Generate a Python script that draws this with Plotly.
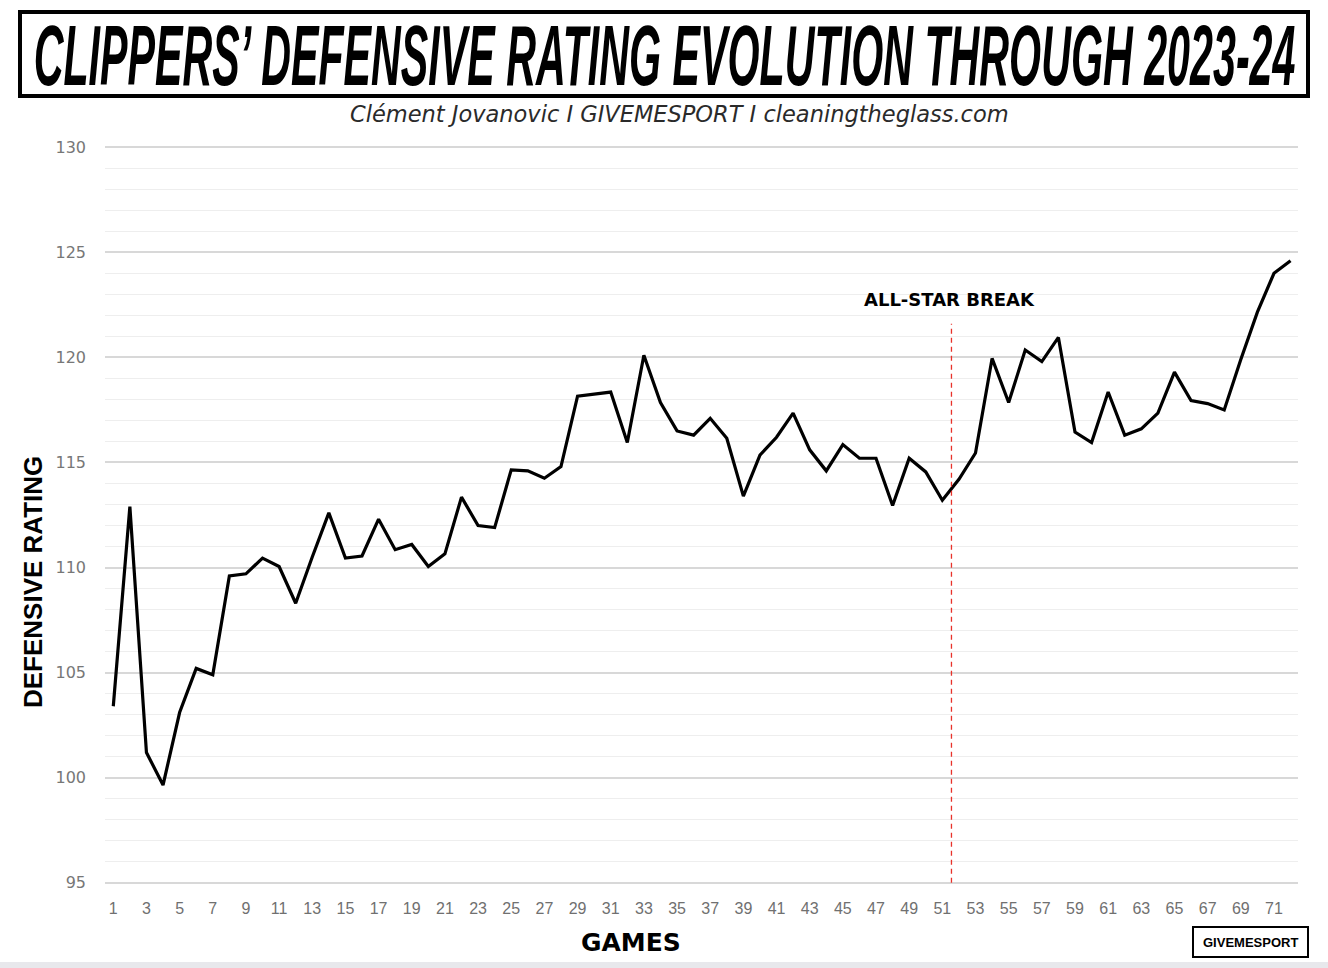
import plotly.graph_objects as go

W, H = 1328, 968
ML, MR, MT, MB = 105, 30, 143, 81

games = list(range(1, 73))
def_rating = [
    103.4, 112.9, 101.2, 99.65, 103.1, 105.2, 104.9, 109.6, 109.7, 110.45,
    110.05, 108.3, 110.5, 112.6, 110.45, 110.55, 112.3, 110.85, 111.1, 110.05,
    110.65, 113.35, 112.0, 111.9, 114.65, 114.6, 114.25, 114.8, 118.15, 118.25,
    118.35, 115.95, 120.1, 117.85, 116.5, 116.3, 117.1, 116.15, 113.4, 115.35,
    116.2, 117.35, 115.6, 114.6, 115.85, 115.2, 115.2, 112.95, 115.2, 114.55,
    113.2, 114.2, 115.45, 119.95, 117.85, 120.35, 119.8, 120.95, 116.45, 115.95,
    118.35, 116.3, 116.6, 117.35, 119.3, 117.95, 117.8, 117.5, 119.9, 122.15,
    124.0, 124.6,
]
x_ticks = list(range(1, 72, 2))
y_ticks = [95, 100, 105, 110, 115, 120, 125, 130]
all_star_game = 51.55
all_star_top = 121.6

title = "CLIPPERS’ DEFENSIVE RATING EVOLUTION THROUGH 2023-24"
subtitle = "Clément Jovanovic I GIVEMESPORT I cleaningtheglass.com"


def px(x):
    # pixel -> paper x
    return (x - ML) / (W - ML - MR)


def py(y):
    # pixel -> paper y
    return (H - MB - y) / (H - MT - MB)


fig = go.Figure()

fig.add_trace(
    go.Scatter(
        x=games,
        y=def_rating,
        mode="lines",
        line=dict(color="black", width=3.2),
        showlegend=False,
    )
)

# all-star break marker
fig.add_shape(
    type="line", xref="x", yref="y",
    x0=all_star_game, x1=all_star_game, y0=95, y1=all_star_top,
    line=dict(color="#e8322a", width=1.3, dash="5px,4px"),
)

# title box
fig.add_shape(
    type="rect", xref="paper", yref="paper",
    x0=px(20), x1=px(1308), y0=py(96), y1=py(12),
    line=dict(color="black", width=4), fillcolor="white",
)
# logo box
fig.add_shape(
    type="rect", xref="paper", yref="paper",
    x0=px(1193), x1=px(1308), y0=py(957), y1=py(927),
    line=dict(color="black", width=2), fillcolor="white",
)
# bottom strip
fig.add_shape(
    type="rect", xref="paper", yref="paper",
    x0=px(0), x1=px(W), y0=py(H), y1=py(962),
    line=dict(width=0), fillcolor="#e8e8ec",
)

annos = [
    dict(text="<b><i>" + title + "</i></b>", x=px(664), y=py(54),
         font=dict(family="Liberation Sans Narrow, Liberation Sans", size=44, color="black")),
    dict(text="<i>" + subtitle + "</i>", x=px(679), y=py(114),
         font=dict(family="DejaVu Sans", size=22.5, color="#2a2a2a")),
    dict(text="<b>ALL-STAR BREAK</b>", x=px(949), y=py(299),
         font=dict(family="DejaVu Sans", size=18, color="black")),
    dict(text="<b>GAMES</b>", x=px(631), y=py(942),
         font=dict(family="DejaVu Sans", size=25, color="black")),
    dict(text="<b>DEFENSIVE RATING</b>", x=px(33), y=py(582), textangle=-90,
         font=dict(family="Liberation Sans", size=26, color="black")),
    dict(text="<b>GIVEMESPORT</b>", x=px(1250), y=py(942),
         font=dict(family="Liberation Sans Narrow, Liberation Sans", size=13, color="black")),
]
for a in annos:
    fig.add_annotation(xref="paper", yref="paper", showarrow=False,
                       xanchor="center", yanchor="middle", **a)

fig.update_xaxes(
    range=[0.5, 72.45],
    tickvals=x_ticks,
    showgrid=False, zeroline=False, showline=False,
    ticks="", ticklabelstandoff=10,
    tickfont=dict(family="Liberation Sans Narrow, Liberation Sans", size=16, color="#707070"),
)
fig.update_yaxes(
    range=[94.8, 130.2],
    tickvals=y_ticks,
    showgrid=True, gridcolor="#d8d8d8", gridwidth=1.6,
    minor=dict(dtick=1, showgrid=True, gridcolor="#eeeeee", gridwidth=1.2),
    zeroline=False, showline=False,
    ticks="", ticklabelstandoff=18,
    tickfont=dict(family="DejaVu Sans", size=16, color="#777777"),
)
fig.update_layout(
    width=W, height=H,
    margin=dict(l=ML, r=MR, t=MT, b=MB),
    paper_bgcolor="white", plot_bgcolor="white",
    showlegend=False,
)

# drop the page margin, then stretch the title vertically to mimic the tall condensed poster font
post = """
document.body.style.margin = '0';
var gd = document.getElementById('{plot_id}');
gd.querySelectorAll('.annotation-text').forEach(function(t){
  if (t.textContent.indexOf('CLIPPERS') !== 0) return;
  var b = t.getBBox();
  var cx = b.x + b.width / 2, cy = b.y + b.height / 2;
  var sx = 1262 / b.width, sy = 1.95;
  t.setAttribute('transform', 'translate(' + cx + ',' + cy + ') scale(' + sx + ',' + sy + ') translate(' + (-cx) + ',' + (-cy) + ')');
});
"""

fig.write_html("out.html", post_script=post, config={"displayModeBar": False})
